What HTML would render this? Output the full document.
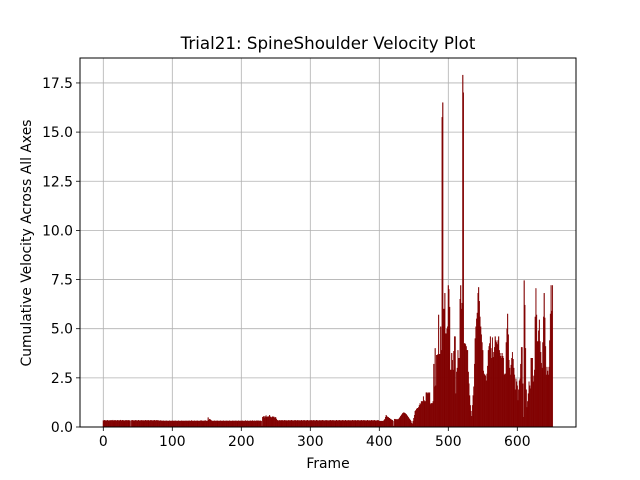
<!DOCTYPE html>
<html><head><meta charset="utf-8"><style>
html,body{margin:0;padding:0;background:#fff;}
svg{display:block;font-family:"DejaVu Sans","Liberation Sans",sans-serif;}
</style></head><body>
<svg id="chart" width="640" height="480" viewBox="0 0 640 480">
<rect x="0" y="0" width="640" height="480" fill="#fff"/>
<g id="grid"></g>
<g id="bars"></g>
<rect x="80" y="58" width="496" height="369" fill="none" stroke="#000" stroke-width="1"/>
<g id="ticks"></g>
<text x="328" y="49" text-anchor="middle" font-size="16.7">Trial21: SpineShoulder Velocity Plot</text>
<text x="328" y="468" text-anchor="middle" font-size="13.9">Frame</text>
<text x="31" y="243" text-anchor="middle" font-size="13.9" transform="rotate(-90 31 243)">Cumulative Velocity Across All Axes</text>
</svg>
<script>
const xTicks = [0,100,200,300,400,500,600];
const yTicks = [0,2.5,5,7.5,10,12.5,15,17.5];
const yTickLabels = ["0.0","2.5","5.0","7.5","10.0","12.5","15.0","17.5"];
const baseValues = [
0.33,0.32,0.34,0.33,0.31,0.33,0.34,0.32,0.33,0.33,0.32,0.34,0.33,0.33,0.35,0.32,0.33,0.34,0.33,0.32,
0.33,0.34,0.32,0.33,0.33,0.35,0.33,0.32,0.34,0.33,0.33,0.32,0.33,0.34,0.33,0.32,0.34,0.33,0.33,0.32,
0.02,0.33,0.34,0.32,0.33,0.33,0.32,0.34,0.33,0.32,0.33,0.34,0.33,0.32,0.33,0.33,0.34,0.32,0.33,0.33,
0.32,0.34,0.33,0.33,0.32,0.34,0.33,0.32,0.33,0.34,0.33,0.33,0.32,0.33,0.34,0.32,0.33,0.33,0.34,0.32,
0.33,0.32,0.31,0.33,0.32,0.3,0.31,0.32,0.3,0.31,0.3,0.32,0.31,0.3,0.31,0.3,0.32,0.3,0.31,0.3,
0.32,0.3,0.31,0.3,0.32,0.31,0.3,0.31,0.3,0.32,0.3,0.31,0.3,0.31,0.32,0.3,0.31,0.3,0.31,0.3,
0.32,0.3,0.31,0.3,0.32,0.31,0.3,0.31,0.33,0.3,0.31,0.3,0.32,0.3,0.31,0.3,0.32,0.31,0.3,0.31,
0.3,0.32,0.33,0.3,0.31,0.3,0.32,0.31,0.33,0.3,0.31,0.3,0.48,0.35,0.4,0.38,0.35,0.32,0.3,0.31,
0.3,0.32,0.3,0.31,0.3,0.32,0.31,0.3,0.31,0.3,0.32,0.3,0.31,0.3,0.32,0.31,0.3,0.31,0.3,0.32,
0.3,0.31,0.3,0.32,0.3,0.31,0.3,0.31,0.32,0.3,0.31,0.3,0.32,0.3,0.31,0.3,0.32,0.31,0.3,0.31,
0.3,0.32,0.31,0.3,0.31,0.3,0.33,0.31,0.3,0.32,0.3,0.31,0.3,0.32,0.31,0.3,0.33,0.31,0.3,0.32,
0.3,0.31,0.32,0.3,0.33,0.31,0.3,0.32,0.31,0.3,0.05,0.5,0.52,0.55,0.48,0.53,0.58,0.5,0.52,0.5,
0.55,0.6,0.52,0.5,0.48,0.53,0.5,0.52,0.45,0.5,0.48,0.4,0.35,0.33,0.32,0.33,0.34,0.32,0.33,0.34,
0.33,0.32,0.33,0.34,0.32,0.33,0.33,0.32,0.33,0.34,0.32,0.33,0.33,0.34,0.32,0.33,0.32,0.33,0.34,0.33,
0.32,0.33,0.34,0.32,0.33,0.33,0.32,0.34,0.33,0.32,0.33,0.34,0.33,0.32,0.33,0.33,0.34,0.32,0.33,0.33,
0.32,0.34,0.33,0.33,0.32,0.34,0.33,0.32,0.33,0.34,0.33,0.33,0.32,0.33,0.34,0.32,0.33,0.33,0.34,0.32,
0.33,0.32,0.33,0.34,0.32,0.33,0.33,0.32,0.33,0.34,0.32,0.33,0.33,0.34,0.32,0.33,0.32,0.33,0.34,0.33,
0.32,0.33,0.34,0.32,0.33,0.33,0.32,0.34,0.33,0.32,0.33,0.34,0.33,0.32,0.33,0.33,0.34,0.32,0.33,0.33,
0.32,0.34,0.33,0.33,0.32,0.34,0.33,0.32,0.33,0.34,0.33,0.33,0.32,0.33,0.34,0.32,0.33,0.33,0.34,0.32,
0.33,0.32,0.33,0.34,0.32,0.33,0.33,0.32,0.33,0.34,0.32,0.33,0.33,0.34,0.32,0.33,0.32,0.33,0.34,0.33
];
const lateValues = [
0.3,0.3,0.3,0.3,0.3,0.3,0.3,0.35,0.4,0.5,0.6,0.55,0.5,0.5,0.45,0.45,0.4,0.4,0.35,0.35,
0.3,0.05,0.4,0.4,0.38,0.38,0.4,0.35,0.4,0.45,0.5,0.55,0.6,0.65,0.7,0.73,0.73,0.7,0.68,0.65,
0.6,0.55,0.5,0.45,0.4,0.35,0.3,0.2,0.15,0.3,0.45,0.6,0.8,0.85,0.9,0.95,0.95,1.0,1.1,1.2,
1.15,1.3,1.3,1.3,1.55,1.35,1.3,1.3,1.75,1.75,1.7,1.75,1.7,1.75,1.15,1.2,1.2,1.2,1.3,3.2,
2.05,4.0,2.1,3.65,3.65,3.7,5.7,3.7,3.7,5.1,3.9,15.75,16.5,6.0,6.0,6.8,4.75,4.75,5.0,5.1,
7.2,7.0,6.1,2.9,2.9,3.75,3.4,2.9,3.85,4.6,4.6,1.7,2.8,3.0,3.9,3.5,3.5,6.5,7.2,6.0,
6.3,17.9,17.0,4.25,4.25,4.2,4.1,3.9,3.9,2.8,2.2,1.6,1.1,0.8,0.55,1.1,1.6,2.05,3.2,4.5,
5.1,5.5,5.8,6.8,7.1,6.4,5.6,5.1,4.7,4.3,3.9,2.85,2.7,2.65,2.6,2.35,2.7,3.1,3.9,4.1,
4.25,4.6,4.0,3.5,4.55,3.55,3.8,4.05,4.6,4.4,4.3,4.2,4.4,4.6,3.9,3.75,3.6,3.5,3.75,3.6,
3.5,2.65,2.7,2.7,4.3,5.0,5.75,4.7,3.4,3.0,2.65,3.15,3.5,3.8,3.45,3.0,2.65,1.9,2.45,2.3,
2.1,1.35,1.9,2.35,2.45,3.2,4.05,4.05,2.2,0.5,7.45,6.2,4.0,1.9,1.0,1.3,1.7,2.3,2.1,1.95,
3.5,3.5,3.5,2.3,2.6,2.9,5.6,7.05,5.7,4.35,4.35,4.9,5.45,4.35,3.8,3.25,3.0,4.3,5.6,6.8,
5.55,4.1,2.65,3.05,2.85,2.65,3.05,4.4,5.75,7.2,5.9,7.2
];
const values = baseValues.concat(lateValues);

const X0 = 80, X1 = 576, Y0 = 58, Y1 = 427;
function xScale(f){ return 103.3 + f * 0.69; }
function yScale(v){ return Y1 - v * 19.66; }
const NS = "http://www.w3.org/2000/svg";
const grid = document.getElementById('grid');
const ticks = document.getElementById('ticks');
const bars = document.getElementById('bars');

xTicks.forEach(function(t){
  const x = xScale(t);
  const g = document.createElementNS(NS,'line');
  g.setAttribute('x1',x); g.setAttribute('x2',x); g.setAttribute('y1',Y0); g.setAttribute('y2',Y1);
  g.setAttribute('stroke','#b0b0b0'); g.setAttribute('stroke-width','0.8');
  
  
  grid.appendChild(g);
  const tk = document.createElementNS(NS,'line');
  tk.setAttribute('x1',x); tk.setAttribute('x2',x); tk.setAttribute('y1',Y1); tk.setAttribute('y2',Y1+4);
  tk.setAttribute('stroke','#000'); tk.setAttribute('stroke-width','0.8');
  
  
  ticks.appendChild(tk);
  const tx = document.createElementNS(NS,'text');
  tx.setAttribute('x',x); tx.setAttribute('y',Y1+19); tx.setAttribute('text-anchor','middle'); tx.setAttribute('font-size','13.9');
  tx.textContent = String(t);
  
  
  ticks.appendChild(tx);
});
yTicks.forEach(function(t,i){
  const y = yScale(t);
  const g = document.createElementNS(NS,'line');
  g.setAttribute('x1',X0); g.setAttribute('x2',X1); g.setAttribute('y1',y); g.setAttribute('y2',y);
  g.setAttribute('stroke','#b0b0b0'); g.setAttribute('stroke-width','0.8');
  
  
  grid.appendChild(g);
  const tk = document.createElementNS(NS,'line');
  tk.setAttribute('x1',X0-4); tk.setAttribute('x2',X0); tk.setAttribute('y1',y); tk.setAttribute('y2',y);
  tk.setAttribute('stroke','#000'); tk.setAttribute('stroke-width','0.8');
  
  
  ticks.appendChild(tk);
  const tx = document.createElementNS(NS,'text');
  tx.setAttribute('x',X0-7); tx.setAttribute('y',y+5); tx.setAttribute('text-anchor','end'); tx.setAttribute('font-size','13.9');
  tx.textContent = yTickLabels[i];
  
  
  ticks.appendChild(tx);
});
values.forEach(function(v,f){
  const w = 0.69;
  const r = document.createElementNS(NS,'rect');
  r.setAttribute('x', xScale(f) - w/2);
  r.setAttribute('y', yScale(v));
  r.setAttribute('width', w);
  r.setAttribute('height', Y1 - yScale(v));
  r.setAttribute('fill', '#800000');
  r.setAttribute('stroke', '#800000');
  r.setAttribute('stroke-width', '0.35');
  
  
  bars.appendChild(r);
});
</script>
</body></html>
